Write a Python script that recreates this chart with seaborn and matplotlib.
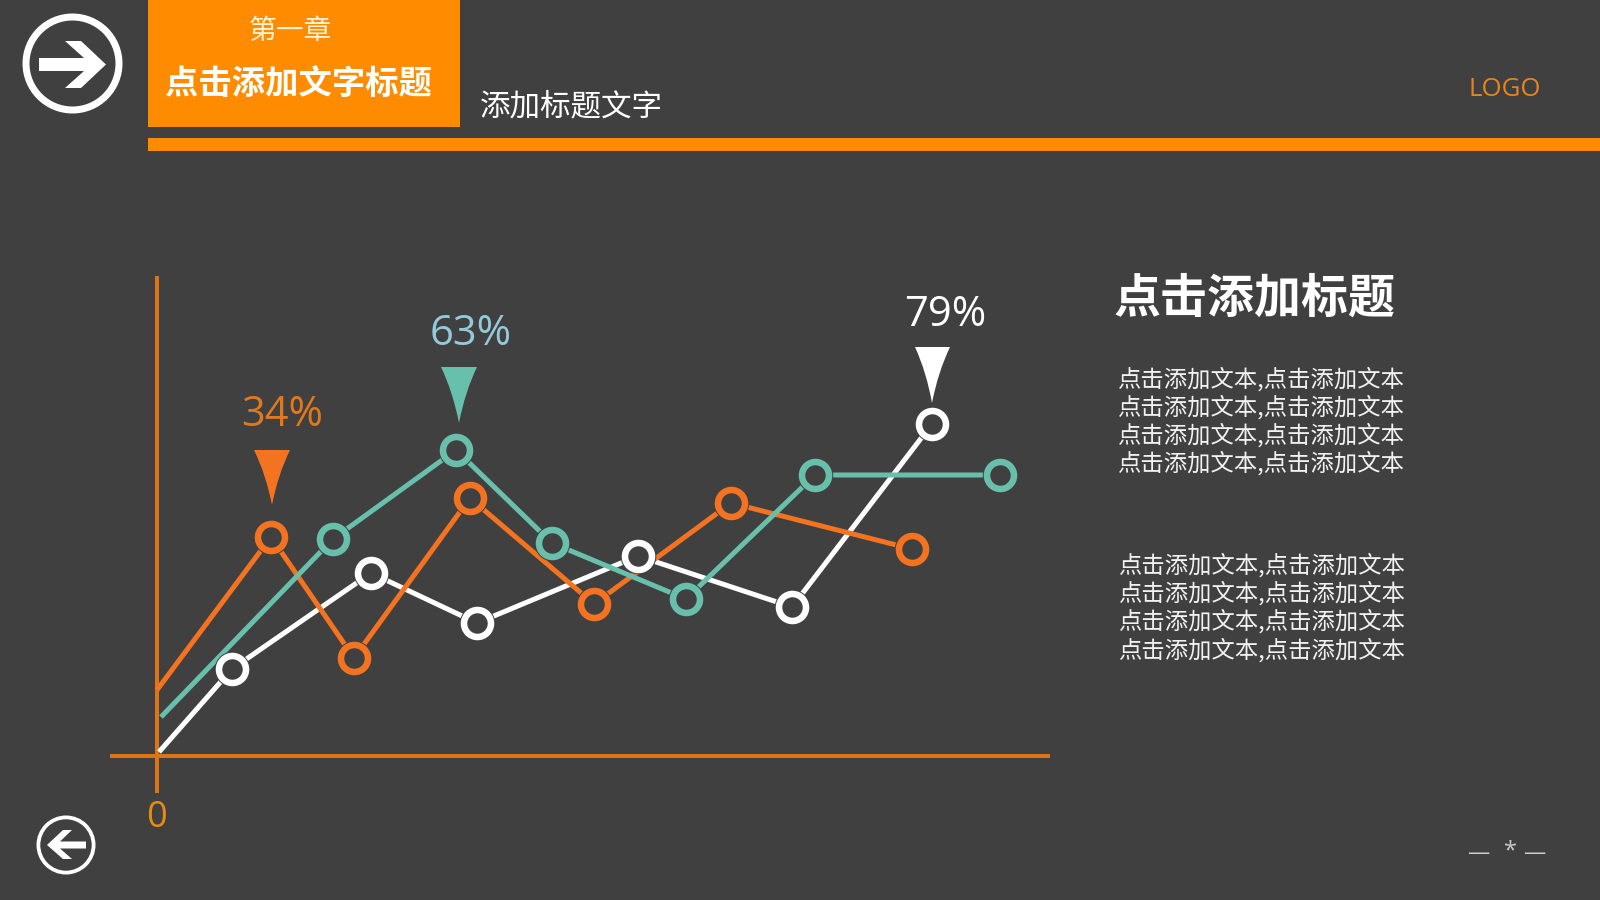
import matplotlib
matplotlib.use("Agg")
import matplotlib.pyplot as plt
import pandas as pd
import seaborn as sns
from matplotlib.patches import Circle, PathPatch, Polygon, Rectangle
from matplotlib.path import Path

# ---------- data (x/y are distances from the axis origin) ----------
series_names = ["white", "orange", "teal"]
white_x = [3, 76, 215, 321, 482, 636, 776]
white_y = [4, 87, 183, 133, 200, 149, 332]
orange_x = [1, 115, 198, 314, 438, 575, 756]
orange_y = [66, 219, 98, 258, 152, 253, 207]
teal_x = [5, 177, 300, 396, 530, 659, 844]
teal_y = [39, 217, 306, 213, 157, 281, 281]

callout_labels = ["34%", "63%", "79%"]
zero_label = "0"
header_small = "第一章"
header_big = "点击添加文字标题"
subtitle = "添加标题文字"
logo = "LOGO"
side_title = "点击添加标题"
side_line = "点击添加文本,点击添加文本"

BG = "#404040"
BAR = "#FF8C00"
AXIS = "#DB7518"
WHITE = "#FFFFFF"
ORANGE = "#F37321"
TEAL = "#68BFAC"
palette = {"white": WHITE, "orange": ORANGE, "teal": TEAL}

FW, FH = 1600, 900
OX, OY = 156, 756


def P(x, y):
    """pixel position of the slide -> data position"""
    return x - OX, OY - y


sns.set_theme(style="white")
plt.rcParams["font.family"] = ["Open Sans", "Noto Sans CJK SC", "DejaVu Sans"]
CJK = ["Noto Sans CJK SC", "DejaVu Sans"]
LAT = ["Open Sans", "DejaVu Sans"]

fig = plt.figure(figsize=(16, 9), dpi=100, facecolor=BG)
ax = fig.add_axes([0, 0, 1, 1], facecolor=BG)

df = pd.concat(
    [
        pd.DataFrame({"x": white_x, "y": white_y, "s": "white"}),
        pd.DataFrame({"x": orange_x, "y": orange_y, "s": "orange"}),
        pd.DataFrame({"x": teal_x, "y": teal_y, "s": "teal"}),
    ],
    ignore_index=True,
)

# axes
ax.axhline(0, xmin=110 / FW, xmax=1050 / FW, color=AXIS, lw=2.9, zorder=1, solid_capstyle="butt")
ax.axvline(0.8, ymin=(FH - 793) / FH, ymax=(FH - 276) / FH, color=AXIS, lw=2.9, zorder=1, solid_capstyle="butt")

# lines and ringed markers, series by series
for k, name in enumerate(series_names):
    sub = df[df["s"] == name]
    sns.lineplot(
        data=sub, x="x", y="y", color=palette[name], lw=3.6, sort=False,
        estimator=None, legend=False, ax=ax, zorder=3 + k,
        solid_capstyle="butt", solid_joinstyle="miter",
    )
for k, name in enumerate(series_names):
    sub = df[df["s"] == name].iloc[1:]
    sns.scatterplot(
        data=sub, x="x", y="y", s=35.5 ** 2 * 0.5184, color=BG, linewidth=0,
        legend=False, ax=ax, zorder=7, marker="o",
    )
    sns.scatterplot(
        data=sub, x="x", y="y", s=27 ** 2 * 0.5184, facecolor=BG,
        edgecolor=palette[name], linewidth=4.7, legend=False, ax=ax, zorder=8,
    )


# callout pointers with slightly concave sides
def pointer(x0, x1, top, tipx, tipy, color):
    mx0, my0 = (x0 + tipx) / 2 + 3, (top + tipy) / 2 - 3
    mx1, my1 = (x1 + tipx) / 2 - 3, (top + tipy) / 2 - 3
    verts = [P(x0, top), P(mx0, my0), P(tipx, tipy), P(mx1, my1), P(x1, top), P(x0, top)]
    codes = [Path.MOVETO, Path.CURVE3, Path.CURVE3, Path.CURVE3, Path.CURVE3, Path.CLOSEPOLY]
    ax.add_patch(PathPatch(Path(verts, codes), fc=color, ec="none", zorder=9))


pointer(254, 290, 450, 272, 505, ORANGE)
pointer(441, 477, 367, 459, 423, TEAL)
pointer(915, 950, 347, 932, 403, WHITE)


def T(x, y, s, color, size, ha="center", va="center", weight="normal", family=None):
    px, py = P(x, y)
    ax.text(px, py, s, color=color, fontsize=size, ha=ha, va=va, fontweight=weight,
            family=family or CJK, zorder=12)


T(282.5, 426, callout_labels[0], "#E0781C", 30, va="baseline", family=LAT)
T(471, 345, callout_labels[1], "#94C9DC", 30, va="baseline", family=LAT)
T(945, 326, callout_labels[2], WHITE, 30, va="baseline", family=LAT)
T(156, 827, zero_label, "#E88A14", 26, va="baseline", family=LAT)

# header
ax.add_patch(Rectangle(P(148, 127), 312, 127, fc=BAR, ec="none", zorder=2))
ax.add_patch(Rectangle(P(148, 151), FW - 148, 13, fc=BAR, ec="none", zorder=2))
T(290, 30.5, header_small, "#FFF2D6", 20)
T(299, 84, header_big, WHITE, 24, weight="bold")
T(571, 107, subtitle, WHITE, 22)
T(1505, 90, logo, "#E8851A", 18.5, family=LAT)


def ring(cx, cy, r, w):
    c = P(cx, cy)
    ax.add_patch(Circle(c, r - w / 2, fc="none", ec=WHITE, lw=w * 0.72, zorder=10))


def arrow(pts):
    ax.add_patch(Polygon([P(*p) for p in pts], closed=True, fc=WHITE, ec="none", zorder=10))


ring(72.5, 63.5, 50, 7)
arrow([(39, 58), (84, 58), (65, 41), (81, 41), (106, 64.5), (81, 88), (65, 88), (84, 71), (39, 71)])
ring(66, 845, 29.5, 3.8)
arrow([(47, 845), (63, 830), (72, 830), (60, 841.5), (86, 841.5), (86, 848.5), (60, 848.5), (72, 859), (63, 859)])

# side text
T(1114, 299, side_title, WHITE, 33.8, ha="left", weight="bold")
for y in [379.5, 407, 435, 463]:
    T(1117.5, y, side_line, "#F2F2F2", 16.8, ha="left")
for y in [565, 593, 621, 650]:
    T(1118.5, y, side_line, "#F2F2F2", 16.8, ha="left")

# page mark
T(1478.5, 853, "—", "#D0D0D0", 16, family=LAT)
T(1510, 851, "*", "#C8C8C8", 17, family=LAT)
T(1534.5, 853, "—", "#D0D0D0", 16, family=LAT)

ax.set_xlim(-OX, FW - OX)
ax.set_ylim(OY - FH, OY)
ax.set_xlabel("")
ax.set_ylabel("")
ax.set_xticks([])
ax.set_yticks([])
sns.despine(ax=ax, left=True, bottom=True)

fig.savefig("out.png", dpi=100, facecolor=BG)
